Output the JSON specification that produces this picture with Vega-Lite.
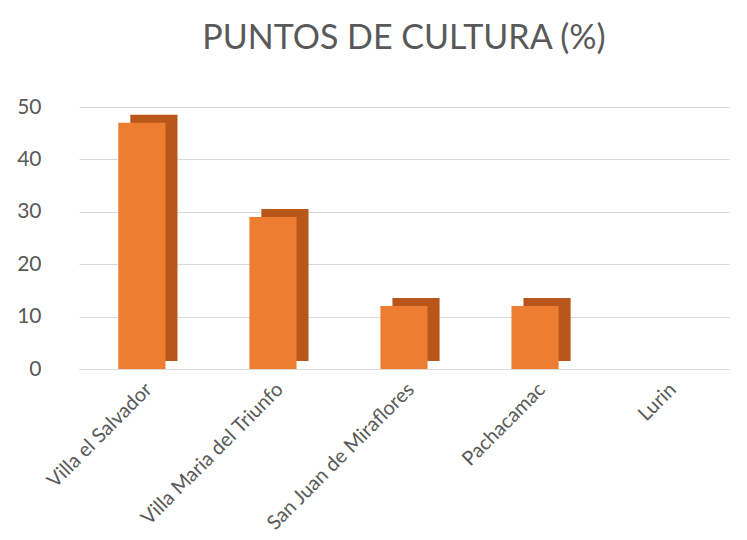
{
  "$schema": "https://vega.github.io/schema/vega-lite/v6.json",
  "width": 747,
  "height": 540,
  "autosize": {"type": "fit", "contains": "padding"},
  "padding": {"left": 16, "top": 22, "right": 18, "bottom": 6},
  "background": "white",
  "title": {
    "text": "PUNTOS DE CULTURA (%)",
    "font": "Lato",
    "fontSize": 34,
    "fontWeight": "normal",
    "color": "#595959",
    "anchor": "middle",
    "offset": 40
  },
  "data": {
    "values": [
      {"distrito": "Villa el Salvador", "porcentaje": 47},
      {"distrito": "Villa Maria del Triunfo", "porcentaje": 29},
      {"distrito": "San Juan de Miraflores", "porcentaje": 12},
      {"distrito": "Pachacamac", "porcentaje": 12},
      {"distrito": "Lurin", "porcentaje": 0}
    ]
  },
  "encoding": {
    "x": {
      "field": "distrito",
      "type": "nominal",
      "sort": null,
      "title": null,
      "scale": {"paddingInner": 0.64, "paddingOuter": 0.3},
      "axis": {
        "labelAngle": -45,
        "labelFont": "Lato",
        "labelFontSize": 20,
        "labelColor": "#595959",
        "labelPadding": 10,
        "labelLimit": 0,
        "domain": true,
        "domainColor": "#D9D9D9",
        "ticks": false,
        "grid": false
      }
    },
    "y": {
      "field": "porcentaje",
      "type": "quantitative",
      "title": null,
      "scale": {"domain": [0, 50]},
      "axis": {
        "values": [0, 10, 20, 30, 40, 50],
        "labelFont": "Lato",
        "labelFontSize": 21,
        "labelColor": "#595959",
        "labelPadding": 38,
        "domain": false,
        "ticks": false,
        "grid": true,
        "gridColor": "#D9D9D9",
        "gridWidth": 1.2
      }
    }
  },
  "layer": [
    {"mark": {"type": "bar", "color": "#B9561A", "xOffset": 12, "yOffset": -8}},
    {"mark": {"type": "bar", "color": "#ED7D31"}}
  ],
  "config": {"view": {"stroke": null}}
}
